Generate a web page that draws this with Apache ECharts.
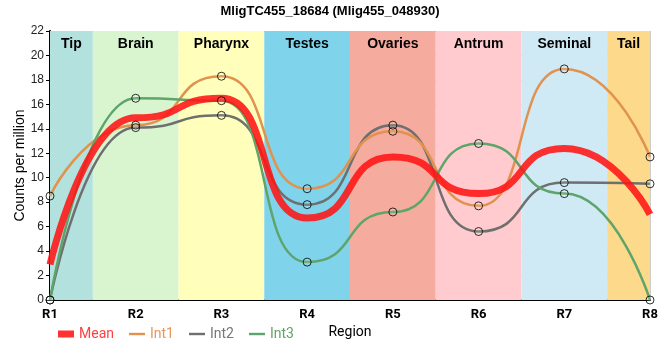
<!DOCTYPE html>
<html><head><meta charset="utf-8">
<script src="https://cdn.jsdelivr.net/npm/echarts@6/dist/echarts.min.js"></script>
<style>html,body{margin:0;padding:0;background:#fff}#c{width:660px;height:360px}</style>
</head><body><div id="c"></div>
<script>
var categories = ['R1','R2','R3','R4','R5','R6','R7','R8'];
var meanVals = [2.9, 14.9, 16.5, 6.7, 11.7, 8.7, 12.4, 7.0];
var int1Vals = [8.5, 14.3, 18.3, 9.1, 13.8, 7.7, 18.9, 11.7];
var int2Vals = [0, 14.1, 15.1, 7.8, 14.3, 5.6, 9.6, 9.5];
var int3Vals = [0, 16.5, 16.3, 3.1, 7.2, 12.8, 8.7, 0];
var regions = ['Tip','Brain','Pharynx','Testes','Ovaries','Antrum','Seminal','Tail'];
var regionColors = ['#b3e2de','#d8f5d0','#ffffbb','#7fd4ec','#f5ab9e','#ffcbce','#cfeaf4','#fdd98b'];
var yTicks = [0,2,4,6,8,10,12,14,16,18,20,22];

function pts(a){ return a.map(function(v,i){ return [i, v]; }); }
var bands = regions.map(function(r,i){
  return [{name:r, xAxis: Math.max(0,i-0.5), itemStyle:{color:regionColors[i]}}, {xAxis: Math.min(categories.length-1, i+0.5)}];
});
var lineCfg = [
  {name:'Mean', data:meanVals, color:'rgba(255,20,20,0.88)', width:7, text:'#ff4040'},
  {name:'Int1', data:int1Vals, color:'#e0924e', width:2.5, text:'#e8955a'},
  {name:'Int2', data:int2Vals, color:'#6f6f6f', width:2.5, text:'#777777'},
  {name:'Int3', data:int3Vals, color:'#5ea46b', width:2.5, text:'#5fa36a'}
];
var series = [{
  type:'line', data:[], z:-1, silent:true,
  markArea:{silent:true, label:{show:true, position:'insideTop', distance:6, fontWeight:'bold', fontSize:14, color:'#000', fontFamily:'Liberation Sans, Arial, sans-serif'}, data:bands}
}];
var order = [2,1,3,0];
order.forEach(function(k){
  var c = lineCfg[k];
  series.push({name:c.name, type:'line', data:pts(c.data), smooth:0.6, smoothMonotone:'x', showSymbol:false, symbol:'none',
    lineStyle:{color:c.color, width:c.width}, itemStyle:{color:c.color}, z: k===0?4:3, silent:true});
});
[int1Vals,int2Vals,int3Vals].forEach(function(a){
  series.push({type:'scatter', data:pts(a), symbol:'circle', symbolSize:8, z:6, silent:true,
    itemStyle:{color:'rgba(255,255,255,0.15)', borderColor:'#000', borderWidth:1}});
});
var chart = echarts.init(document.getElementById('c'), null, {renderer:'canvas'});
chart.setOption({
  animation:false,
  title:{text:'MligTC455_18684 (Mlig455_048930)', left:'center', top:0, textStyle:{fontSize:13, fontWeight:'bold', color:'#000', fontFamily:'Liberation Sans, Arial, sans-serif'}},
  grid:{left:50, right:10, top:31, bottom:60, outerBoundsMode:'none'},
  legend:{left:53, top:322, itemWidth:16, itemHeight:7, itemGap:15,
    textStyle:{fontSize:14, fontFamily:'Roboto, sans-serif'},
    data: lineCfg.map(function(c,i){ return {name:c.name, icon: i===0?'rect':'path://M0,0H16V2.4H0Z', itemStyle:{color:c.color}, textStyle:{color:c.text}}; })},
  xAxis:[{type:'value', min:0, max:categories.length-1, interval:1,
    name:'Region', nameLocation:'middle', nameGap:25, nameMoveOverlap:false, nameTextStyle:{color:'#000', fontSize:14, fontFamily:'Roboto, sans-serif'},
    axisLine:{show:true, lineStyle:{color:'#000', width:2}}, axisTick:{show:false},
    axisLabel:{formatter:function(v){ return categories[v]; }, color:'#000', fontWeight:'bold', fontSize:13, margin:8, fontFamily:'Roboto, sans-serif'},
    splitLine:{show:true, lineStyle:{color:'#cccccc', width:1}}},
    {type:'value', position:'top', min:0, max:categories.length-1, axisLine:{show:true, lineStyle:{color:'#000', width:1}}, axisTick:{show:false}, axisLabel:{show:false}, splitLine:{show:false}}],
  yAxis:[{type:'value', min:yTicks[0], max:yTicks[yTicks.length-1], interval:2,
    name:'Counts per million', nameLocation:'middle', nameGap:23, nameMoveOverlap:false, nameTextStyle:{color:'#000', fontSize:14, fontFamily:'Liberation Sans, Arial, sans-serif'},
    axisLine:{show:true, lineStyle:{color:'#000', width:2}}, axisTick:{show:true, length:4, lineStyle:{color:'#000'}},
    axisLabel:{color:'#222', fontSize:12, margin:6, fontFamily:'Liberation Sans, Arial, sans-serif'},
    splitLine:{show:true, lineStyle:{color:'#cccccc', width:1}}},
    {type:'value', position:'right', min:0, max:22, axisLine:{show:true, lineStyle:{color:'#000', width:1}}, axisTick:{show:false}, axisLabel:{show:false}, splitLine:{show:false}}],
  series: series
});
</script></body></html>
